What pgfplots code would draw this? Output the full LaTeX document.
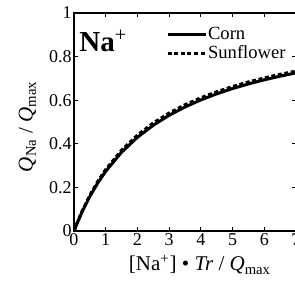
\documentclass[border=0pt]{standalone}
\usepackage{fontspec}
\setmainfont{Liberation Serif}
\usepackage{pgfplots}
\pgfplotsset{compat=1.18}
\begin{document}
\begin{tikzpicture}[x=1pt,y=1pt]
\begin{axis}[
  at={(37pt,25.5pt)}, anchor=south west,
  width=111pt, height=109pt, scale only axis,
  xmin=0, xmax=7, ymin=0, ymax=1,
  xtick={0,1,2,3,4,5,6,7}, ytick={0,0.2,0.4,0.6,0.8,1},
  xticklabels={0,1,2,3,4,5,6,7},
  yticklabels={0,0.2,0.4,0.6,0.8,1},
  tick align=inside, major tick length=2pt,
  tick label style={font=\rmfamily\fontsize{9}{10}\selectfont},
  xticklabel style={inner sep=1pt},
  yticklabel style={inner sep=1pt},
  axis line style={line width=0.6pt},
  tick style={line width=0.6pt, black},
  xlabel={[Na\textsuperscript{+}] \textbullet\ \textit{Tr} / \textit{Q}\textsubscript{max}},
  ylabel={\textit{Q}\textsubscript{Na} / \textit{Q}\textsubscript{max}},
  label style={font=\fontsize{10.5}{12}\selectfont},
  xlabel style={at={(axis description cs:0.5676,-0.1835)}, anchor=base},
  ylabel style={at={(axis description cs:-0.186,0.479)}, anchor=base},
  legend style={at={(axis description cs:0.413,0.945)}, anchor=north west, draw=none, fill=none,
    inner sep=0pt, row sep=0pt, font=\fontsize{9.3}{10}\selectfont,
    nodes={inner sep=0.5pt, text height=6.5pt, text depth=2pt}},
  legend cell align=left,
  legend image code/.code={\draw[#1] (0pt,0pt) -- (19pt,0pt);},
]
\addplot[black, line width=1.5pt] coordinates {
(0,0) (0.1,0.0363) (0.25,0.0861) (0.5,0.1586) (0.75,0.2204) (1,0.2738)
(1.5,0.3612) (2,0.4299) (2.5,0.4852) (3,0.5307) (3.5,0.5689) (4,0.6013)
(4.5,0.6292) (5,0.6534) (5.5,0.6746) (6,0.6934) (6.5,0.7102) (7,0.7252)};
\addlegendentry{Corn}
\addplot[black, line width=1.5pt, dash pattern=on 2pt off 1.3pt] coordinates {
(0,0) (0.1,0.0378) (0.25,0.0895) (0.5,0.1642) (0.75,0.2277) (1,0.2821)
(1.5,0.3709) (2,0.4401) (2.5,0.4956) (3,0.5411) (3.5,0.5790) (4,0.6112)
(4.5,0.6388) (5,0.6627) (5.5,0.6837) (6,0.7022) (6.5,0.7187) (7,0.7334)};
\addlegendentry{Sunflower}
\node[anchor=base west, inner sep=0pt, font=\fontsize{14.5}{16}\selectfont] at (axis description cs:0.0225,0.8225) {\textbf{Na}\textsuperscript{+}};
\end{axis}
\pgfresetboundingbox
\useasboundingbox (0pt,0pt) rectangle (147.5pt,141pt);
\end{tikzpicture}
\end{document}
